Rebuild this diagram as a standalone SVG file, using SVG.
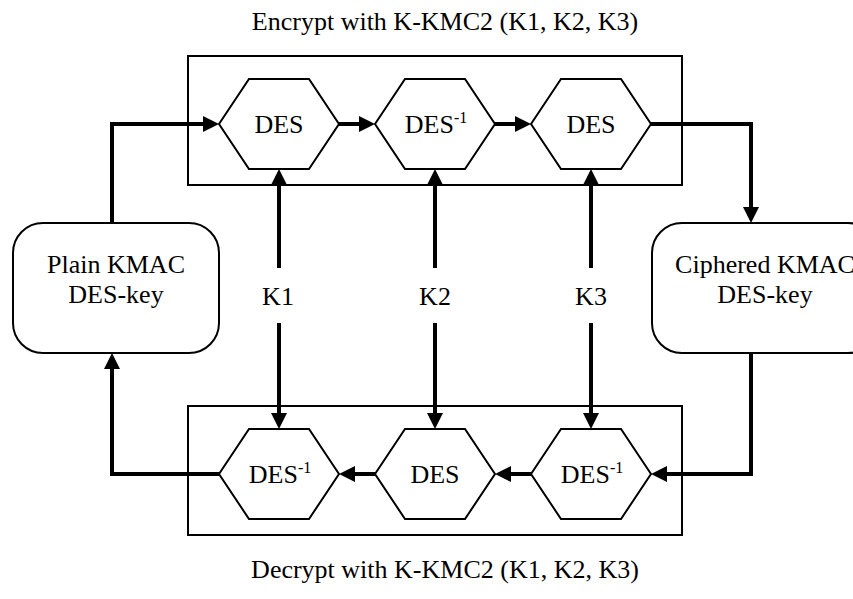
<svg xmlns="http://www.w3.org/2000/svg" width="853" height="599" viewBox="0 0 853 599">
<style>
text{font-family:'Liberation Serif','DejaVu Serif',serif;font-size:26px;fill:#000;text-anchor:middle}
.box{fill:none;stroke:#000;stroke-width:2}
.hex{fill:#fff;stroke:#000;stroke-width:2}
.rr{fill:#fff;stroke:#000;stroke-width:2}
.c{fill:none;stroke:#000;stroke-width:4;stroke-linejoin:miter}
.sup{font-size:16px}
</style>
<defs>
<marker id="ah" markerUnits="userSpaceOnUse" markerWidth="16" markerHeight="16" refX="4" refY="8" orient="auto" viewBox="0 0 16 16">
<path d="M0,0 L16,8 L0,16 z" fill="#000"/>
</marker>
</defs>
<g id="labels">
<text x="445" y="30">Encrypt with K-KMC2 (K1, K2, K3)</text>
<text x="445" y="578">Decrypt with K-KMC2 (K1, K2, K3)</text>
</g>
<g id="encrypt-box"><rect class="box" x="188" y="56" width="494" height="129"/></g>
<g id="decrypt-box"><rect class="box" x="188" y="406" width="494" height="129"/></g>
<g id="connectors">
<path class="c" d="M112,223 V124 H207" marker-end="url(#ah)"/>
<path class="c" d="M339,124 H363" marker-end="url(#ah)"/>
<path class="c" d="M495,124 H519" marker-end="url(#ah)"/>
<path class="c" d="M651,124 H751 V211" marker-end="url(#ah)"/>
<path class="c" d="M751,353 V474 H663" marker-end="url(#ah)"/>
<path class="c" d="M531,474 H507" marker-end="url(#ah)"/>
<path class="c" d="M375,474 H351" marker-end="url(#ah)"/>
<path class="c" d="M219,474 H112 V365" marker-end="url(#ah)"/>
<path class="c" d="M279,268 V181" marker-end="url(#ah)"/>
<path class="c" d="M279,323 V417" marker-end="url(#ah)"/>
<path class="c" d="M435,268 V181" marker-end="url(#ah)"/>
<path class="c" d="M435,323 V417" marker-end="url(#ah)"/>
<path class="c" d="M591,268 V181" marker-end="url(#ah)"/>
<path class="c" d="M591,323 V417" marker-end="url(#ah)"/>
</g>
<g id="plain-key">
<rect class="rr" x="13" y="223" width="206" height="130" rx="30" ry="30"/>
<text x="116" y="273">Plain KMAC</text>
<text x="116" y="303">DES-key</text>
</g>
<g id="ciphered-key">
<rect class="rr" x="652" y="223" width="226" height="130" rx="30" ry="30"/>
<text x="765" y="273">Ciphered KMAC</text>
<text x="765" y="303">DES-key</text>
</g>
<g id="enc-des1">
<polygon class="hex" points="219,124 249,79 309,79 339,124 309,169 249,169"/>
<text x="279" y="133">DES</text>
</g>
<g id="enc-des2">
<polygon class="hex" points="375,124 405,79 465,79 495,124 465,169 405,169"/>
<text x="436" y="133">DES<tspan class="sup" dy="-10">-1</tspan></text>
</g>
<g id="enc-des3">
<polygon class="hex" points="531,124 561,79 621,79 651,124 621,169 561,169"/>
<text x="591" y="133">DES</text>
</g>
<g id="dec-des1">
<polygon class="hex" points="219,474 249,429 309,429 339,474 309,519 249,519"/>
<text x="280" y="483">DES<tspan class="sup" dy="-10">-1</tspan></text>
</g>
<g id="dec-des2">
<polygon class="hex" points="375,474 405,429 465,429 495,474 465,519 405,519"/>
<text x="435" y="483">DES</text>
</g>
<g id="dec-des3">
<polygon class="hex" points="531,474 561,429 621,429 651,474 621,519 561,519"/>
<text x="592" y="483">DES<tspan class="sup" dy="-10">-1</tspan></text>
</g>
<g id="key-labels">
<text x="278" y="305">K1</text>
<text x="435" y="305">K2</text>
<text x="591" y="305">K3</text>
</g>
</svg>
